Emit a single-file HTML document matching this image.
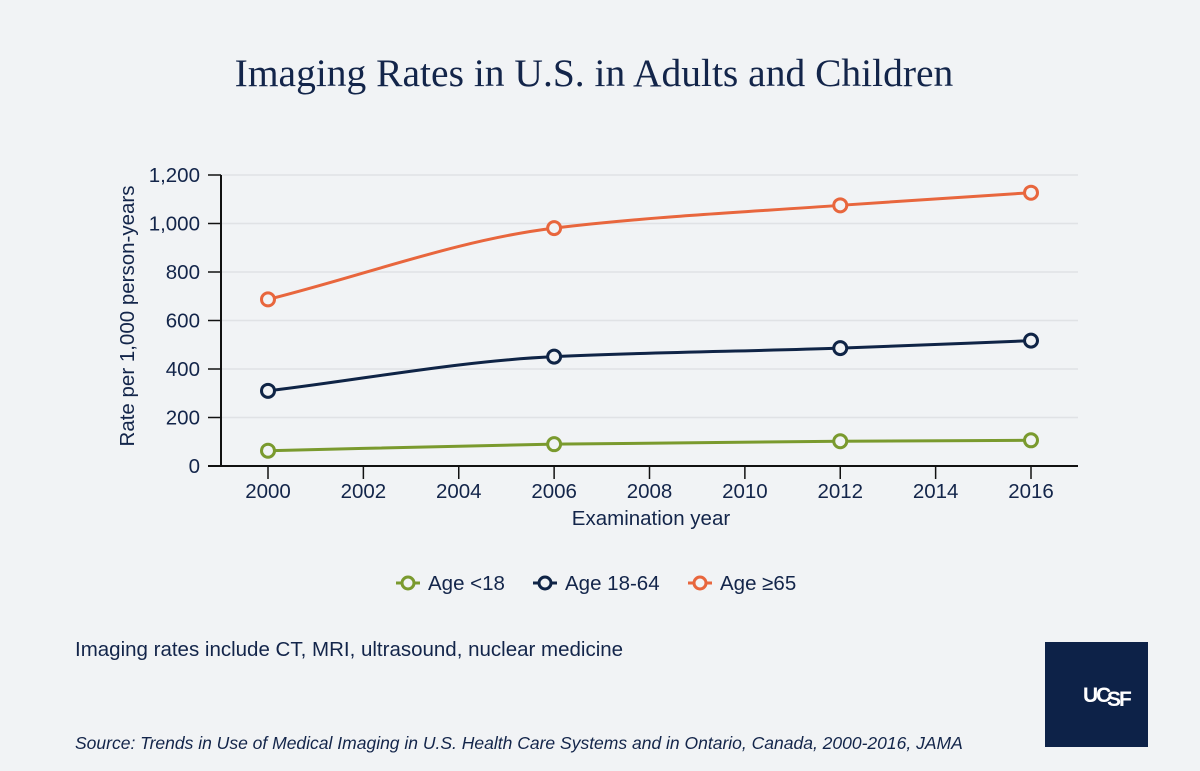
<!DOCTYPE html>
<html><head><meta charset="utf-8"><style>
body{margin:0;background:#f1f3f5;}
svg{display:block;font-family:"Liberation Sans",sans-serif;}
</style></head><body>
<svg width="1200" height="771" viewBox="0 0 1200 771">
<rect width="1200" height="771" fill="#f1f3f5"/>
<text x="594" y="86" text-anchor="middle" font-family="Liberation Serif, serif" font-size="39.5" fill="#13254a">Imaging Rates in U.S. in Adults and Children</text>
<g id="grid"></g><g id="axes"></g><g id="series"></g>
<text transform="translate(134,316) rotate(-90)" text-anchor="middle" font-size="20.5" fill="#13254a">Rate per 1,000 person-years</text>
<text x="651" y="525" text-anchor="middle" font-size="20.5" fill="#13254a">Examination year</text>
<g>
<g><line x1="396" y1="583" x2="420" y2="583" stroke="#7a9a2e" stroke-width="3"/><circle cx="408" cy="583" r="6" fill="#f1f3f5" stroke="#7a9a2e" stroke-width="3"/><text x="428" y="590" font-size="20.5" fill="#13254a">Age &lt;18</text></g>
<g><line x1="533" y1="583" x2="557" y2="583" stroke="#0f2446" stroke-width="3"/><circle cx="545" cy="583" r="6" fill="#f1f3f5" stroke="#0f2446" stroke-width="3"/><text x="565" y="590" font-size="20.5" fill="#13254a">Age 18-64</text></g>
<g><line x1="688" y1="583" x2="712" y2="583" stroke="#e8663d" stroke-width="3"/><circle cx="700" cy="583" r="6" fill="#f1f3f5" stroke="#e8663d" stroke-width="3"/><text x="720" y="590" font-size="20.5" fill="#13254a">Age ≥65</text></g>
</g>
<text x="75" y="656" font-size="20.5" fill="#13254a">Imaging rates include CT, MRI, ultrasound, nuclear medicine</text>
<text x="75" y="749" font-size="17.5" font-style="italic" fill="#13254a">Source: Trends in Use of Medical Imaging in U.S. Health Care Systems and in Ontario, Canada, 2000-2016, JAMA</text>
<g><rect x="1045" y="642" width="103" height="105" fill="#0d2248"/>
<text x="1083" y="702" font-size="21" font-weight="bold" fill="#fff" letter-spacing="-2">UC</text><text x="1107" y="706" font-size="21" font-weight="bold" fill="#fff" letter-spacing="-2">SF</text></g>
</svg>
<script>
const years=[2000,2006,2012,2016];
const under18=[63,90,102,106];
const adults=[310,451,486,517];
const seniors=[687,981,1075,1127];
const yTicks=[0,200,400,600,800,1000,1200];
const xTicks=[2000,2002,2004,2006,2008,2010,2012,2014,2016];
const NS='http://www.w3.org/2000/svg';
const xs=v=>268+(v-2000)*(1031-268)/16;
const ys=v=>466-v*(466-175)/1200;
function mk(t,a,p){const e=document.createElementNS(NS,t);for(const k in a)e.setAttribute(k,a[k]);p.appendChild(e);return e;}
const grid=document.getElementById('grid'),axes=document.getElementById('axes'),ser=document.getElementById('series');
yTicks.forEach(t=>{
 if(t>0){const g=mk('line',{x1:221,x2:1078,y1:ys(t),y2:ys(t),stroke:'#e0e2e5','stroke-width':1.5},grid);
 
 }
 const tk=mk('line',{x1:208,x2:221,y1:ys(t),y2:ys(t),stroke:'#111','stroke-width':1.5},axes);
 
 
 const tx=mk('text',{x:200,y:ys(t)+7,'text-anchor':'end','font-size':20.5,fill:'#13254a'},axes);tx.textContent=t.toLocaleString('en-US');
 
 
});
xTicks.forEach(t=>{
 const tk=mk('line',{x1:xs(t),x2:xs(t),y1:466,y2:479,stroke:'#111','stroke-width':1.5},axes);
 
 
 const tx=mk('text',{x:xs(t),y:498,'text-anchor':'middle','font-size':20.5,fill:'#13254a'},axes);tx.textContent=t;
 
 
});
const ya=mk('line',{x1:221,x2:221,y1:175,y2:466,stroke:'#111','stroke-width':2},axes);


const xa=mk('line',{x1:208,x2:1078,y1:466,y2:466,stroke:'#111','stroke-width':2},axes);


function monotone(px,py){
 const n=px.length,d=[],m=[];
 for(let i=0;i<n-1;i++)d.push((py[i+1]-py[i])/(px[i+1]-px[i]));
 m[0]=d[0];m[n-1]=d[n-2];
 for(let i=1;i<n-1;i++){const h0=px[i]-px[i-1],h1=px[i+1]-px[i];m[i]=d[i-1]*d[i]<=0?0:(3*(h0+h1))/((2*h1+h0)/d[i-1]+(h1+2*h0)/d[i]);}
 let s=`M${px[0]},${py[0]}`;
 for(let i=0;i<n-1;i++){const h=(px[i+1]-px[i])/3;s+=` C${px[i]+h},${py[i]+m[i]*h} ${px[i+1]-h},${py[i+1]-m[i+1]*h} ${px[i+1]},${py[i+1]}`;}
 return s;
}
[[under18,'#7a9a2e','under-18'],[adults,'#0f2446','18-64'],[seniors,'#e8663d','65-plus']].forEach(([vals,c,nm])=>{
 const px=years.map(xs),py=vals.map(ys);
 const p=mk('path',{d:monotone(px,py),fill:'none',stroke:c,'stroke-width':3},ser);
 
 
 px.forEach((x,i)=>{const ci=mk('circle',{cx:x,cy:py[i],r:6.5,fill:'#f1f3f5',stroke:c,'stroke-width':3},ser);
 
 });
});
</script>
</body></html>
